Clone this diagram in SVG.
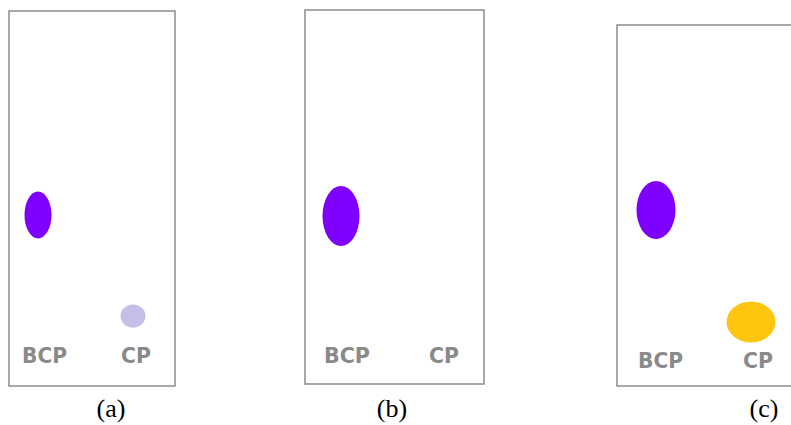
<svg xmlns="http://www.w3.org/2000/svg" width="791" height="425" viewBox="0 0 791 425">
  <style>
    .plate { fill: #ffffff; stroke: #8c8c8c; stroke-width: 1.5; }
    .lane { font-family: "DejaVu Sans", Verdana, sans-serif; font-weight: bold; font-size: 20.5px; fill: #8a8a8a; }
    .cap { font-family: "Liberation Serif", "Times New Roman", serif; font-size: 26px; fill: #000000; text-anchor: middle; }
    .violet { fill: #7f00ff; }
  </style>
  <rect width="791" height="425" fill="#ffffff"/>

  <!-- Plate (a) -->
  <g id="plate-a">
    <rect class="plate" x="9" y="11" width="166" height="375"/>
    <ellipse class="violet" cx="38" cy="215" rx="13.5" ry="23.5"/>
    <ellipse cx="133" cy="316" rx="12.5" ry="11.5" fill="#c6bee6"/>
    <text class="lane" x="22" y="363" textLength="45" lengthAdjust="spacingAndGlyphs">BCP</text>
    <text class="lane" x="121" y="363" textLength="30" lengthAdjust="spacingAndGlyphs">CP</text>
    <text class="cap" x="111" y="417">(a)</text>
  </g>

  <!-- Plate (b) -->
  <g id="plate-b">
    <rect class="plate" x="305" y="10" width="179" height="374"/>
    <ellipse class="violet" cx="341" cy="216" rx="18.5" ry="30"/>
    <text class="lane" x="324" y="363" textLength="46" lengthAdjust="spacingAndGlyphs">BCP</text>
    <text class="lane" x="429" y="363" textLength="30" lengthAdjust="spacingAndGlyphs">CP</text>
    <text class="cap" x="392" y="417">(b)</text>
  </g>

  <!-- Plate (c) -->
  <g id="plate-c">
    <rect class="plate" x="617" y="25" width="200" height="361"/>
    <ellipse class="violet" cx="656" cy="210" rx="19.5" ry="29"/>
    <ellipse cx="751" cy="322" rx="24.5" ry="20.5" fill="#ffc60f"/>
    <text class="lane" x="638" y="368" textLength="45" lengthAdjust="spacingAndGlyphs">BCP</text>
    <text class="lane" x="743" y="368" textLength="30" lengthAdjust="spacingAndGlyphs">CP</text>
    <text class="cap" x="764" y="417">(c)</text>
  </g>
</svg>
